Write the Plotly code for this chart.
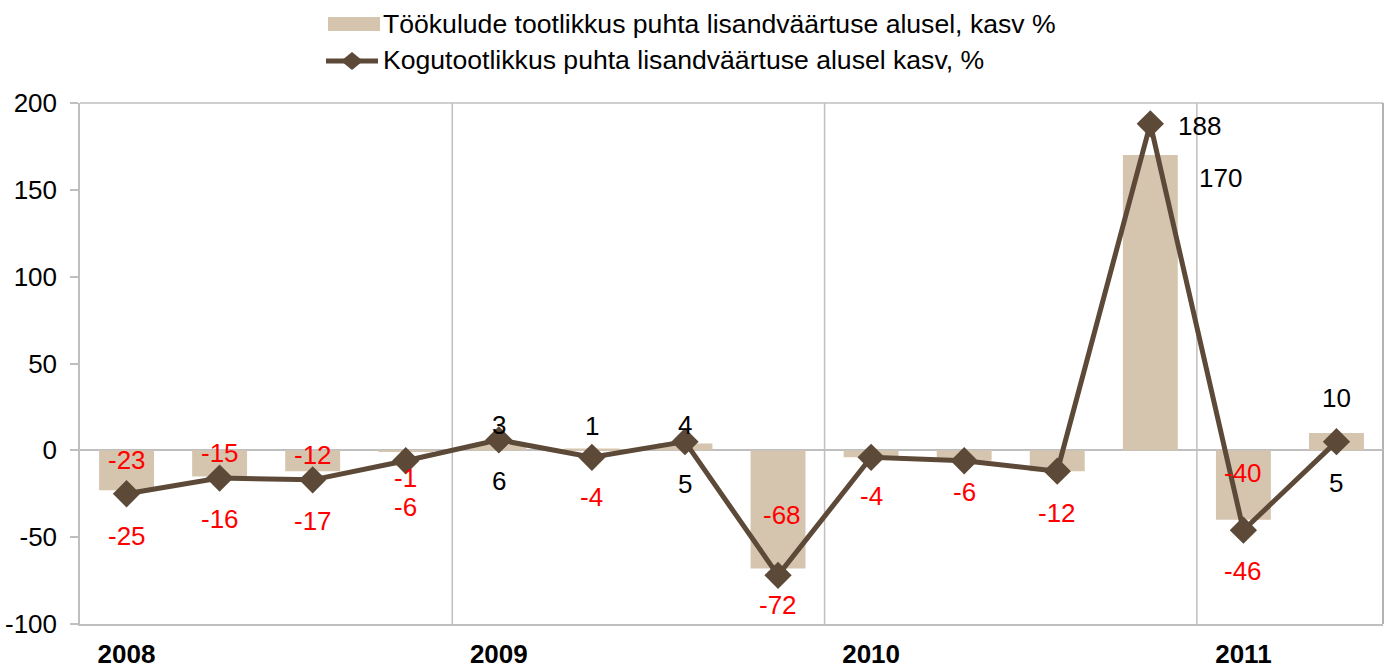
import plotly.graph_objects as go

# ---- data ----
quarters = ["2008 Q1", "2008 Q2", "2008 Q3", "2008 Q4",
            "2009 Q1", "2009 Q2", "2009 Q3", "2009 Q4",
            "2010 Q1", "2010 Q2", "2010 Q3", "2010 Q4",
            "2011 Q1", "2011 Q2"]
year_labels = ["2008", "2009", "2010", "2011"]
year_first_index = [0, 4, 8, 12]
bar_values = [-23, -15, -12, -1, 3, 1, 4, -68, -4, -6, -12, 170, -40, 10]
line_values = [-25, -16, -17, -6, 6, -4, 5, -72, -4, -6, -12, 188, -46, 5]
y_ticks = [-100, -50, 0, 50, 100, 150, 200]
bar_name = "Töökulude tootlikkus puhta lisandväärtuse alusel, kasv %"
line_name = "Kogutootlikkus puhta lisandväärtuse alusel kasv, %"

# ---- presentation ----
BAR_COLOR = "#D5C5AF"
LINE_COLOR = "#5C4937"
GRID = "#BFBFBF"
FONT = "Arial, Liberation Sans, sans-serif"
FS = 26
# label offsets (px) per point: (xshift, yshift); None = label hidden
bar_label_offsets = [(0, 30), (0, 23), (0, 16), (0, -26), (0, 20), (0, 23), (0, 18),
                     (4, 53), None, None, None, (70, -23), (0, 47), (0, 35)]
line_label_offsets = [(0, -42), (0, -41), (0, -41), (0, -46), (0, -41), (0, -40), (0, -42),
                      (0, -30), (0, -39), (0, -31), (0, -42), (49, -2), (0, -41), (0, -41)]

x = list(range(len(quarters)))

fig = go.Figure()
fig.add_trace(go.Bar(x=x, y=bar_values, name=bar_name, marker_color=BAR_COLOR,
                     marker_line_width=0, showlegend=False, hovertext=quarters))
fig.add_trace(go.Scatter(x=x, y=line_values, name=line_name, mode="lines+markers",
                         line=dict(color=LINE_COLOR, width=5),
                         marker=dict(symbol="diamond", size=21, color=LINE_COLOR),
                         showlegend=False, hovertext=quarters))

annotations = []
for vals, offs in ((bar_values, bar_label_offsets), (line_values, line_label_offsets)):
    for i, (v, o) in enumerate(zip(vals, offs)):
        if o is None:
            continue
        annotations.append(dict(x=i, y=v, xref="x", yref="y", text=str(v), showarrow=False,
                                xshift=o[0], yshift=o[1], xanchor="center", yanchor="middle",
                                font=dict(family=FONT, size=FS,
                                          color="#FF0000" if v < 0 else "#000000")))

# custom legend (paper coords relative to plot area: x0=80px, w=1303px; y0=624px, h=521px)
def px2x(p):
    return (p - 80) / 1303.0

def px2y(p):
    return (624 - p) / 521.0

annotations.append(dict(x=px2x(381), y=px2y(24), xref="paper", yref="paper", text=bar_name,
                        showarrow=False, xanchor="left", yanchor="middle",
                        font=dict(family=FONT, size=26.6, color="#000000")))
annotations.append(dict(x=px2x(381), y=px2y(60), xref="paper", yref="paper", text=line_name,
                        showarrow=False, xanchor="left", yanchor="middle",
                        font=dict(family=FONT, size=26.6, color="#000000")))

shapes = [
    dict(type="rect", xref="paper", yref="paper", x0=px2x(328), x1=px2x(380),
         y0=px2y(31), y1=px2y(17), fillcolor=BAR_COLOR, line_width=0),
    dict(type="line", xref="paper", yref="paper", x0=px2x(326), x1=px2x(378),
         y0=px2y(61), y1=px2y(61), line=dict(color=LINE_COLOR, width=5)),
    dict(type="path", xref="paper", yref="paper",
         path=f"M {px2x(341)},{px2y(61)} L {px2x(352)},{px2y(52)} L {px2x(363)},{px2y(61)} "
              f"L {px2x(352)},{px2y(70)} Z",
         fillcolor=LINE_COLOR, line_width=0),
    # top border
    dict(type="line", xref="paper", yref="paper", x0=0, x1=1, y0=1, y1=1,
         line=dict(color=GRID, width=1.5), layer="below"),
    # right border
    dict(type="line", xref="paper", yref="paper", x0=1, x1=1, y0=0, y1=1,
         line=dict(color="#9A9A9A", width=1.5), layer="below"),
]
for b in (3.5, 7.5, 11.5):
    shapes.append(dict(type="line", xref="x", yref="paper", x0=b, x1=b, y0=0, y1=1,
                       line=dict(color=GRID, width=1.5), layer="below"))

fig.update_layout(
    width=1392, height=669,
    margin=dict(l=80, r=9, t=103, b=45, autoexpand=False),
    paper_bgcolor="white", plot_bgcolor="white",
    bargap=0.41,
    font=dict(family=FONT, size=FS, color="#000000"),
    annotations=annotations, shapes=shapes,
    xaxis=dict(range=[-0.5, len(quarters) - 0.5], tickmode="array",
               tickvals=year_first_index,
               ticktext=[f"<b>{y}</b>" for y in year_labels],
               ticks="outside", ticklen=6, tickcolor="rgba(0,0,0,0)",
               showline=True, linecolor=GRID, linewidth=1.5, showgrid=False,
               zeroline=False, tickfont=dict(family=FONT, size=FS, color="#000000")),
    yaxis=dict(range=[-100, 200], tickmode="array", tickvals=y_ticks,
               ticktext=[str(t) for t in y_ticks], ticks="outside", ticklen=8,
               tickcolor=GRID, tickwidth=1.5, showline=True, linecolor=GRID, linewidth=1.5,
               showgrid=False, zeroline=True, zerolinecolor=GRID, zerolinewidth=1.5,
               ticklabelstandoff=8,
               tickfont=dict(family=FONT, size=FS, color="#000000")),
)

fig.write_html("out.html", config={"displayModeBar": False},
               post_script="document.body.style.margin='0';")
